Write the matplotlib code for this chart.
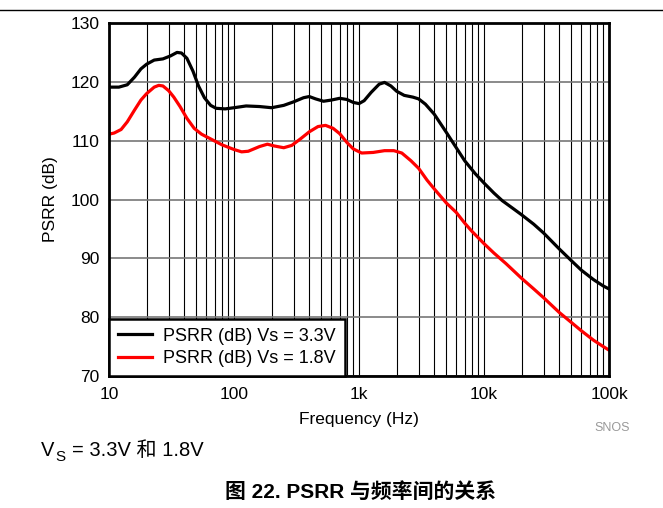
import matplotlib
matplotlib.use("Agg")
import matplotlib.pyplot as plt
from matplotlib.ticker import FixedLocator, LogLocator, NullFormatter

plt.rcParams['font.family'] = ['Liberation Sans', 'Noto Sans CJK SC', 'DejaVu Sans']

# Данные (Гц, дБ)
freq_33 = [10, 12, 14, 16, 18, 20, 23, 27, 31, 35, 38, 42, 47, 52, 58, 65, 72, 85, 100,
           125, 160, 200, 250, 300, 360, 400, 450, 520, 600, 700, 800, 900, 1000, 1100,
           1250, 1450, 1600, 1800, 2000, 2300, 2700, 3000, 3400, 4000, 5000, 6000, 7000,
           8500, 10000, 12000, 14000, 17000, 20000, 25000, 30000, 40000, 50000, 60000,
           75000, 90000, 100000]
psrr_33 = [119.1, 119.1, 119.5, 120.8, 122.2, 123.0, 123.7, 123.9, 124.4, 125.0, 124.9,
           124.0, 121.8, 119.3, 117.3, 116.0, 115.5, 115.4, 115.6, 115.9, 115.8, 115.6,
           116.0, 116.6, 117.3, 117.5, 117.1, 116.7, 116.9, 117.2, 117.0, 116.5, 116.3,
           116.8, 118.2, 119.6, 119.9, 119.3, 118.4, 117.7, 117.4, 117.1, 116.2, 114.5,
           111.4, 108.8, 106.6, 104.4, 102.8, 101.1, 99.8, 98.5, 97.4, 95.8, 94.3, 91.6,
           89.6, 88.0, 86.4, 85.3, 84.8]

freq_18 = [10, 11, 12.5, 14, 16, 18, 20, 23, 25, 27, 30, 33, 37, 42, 48, 55, 65, 80, 100,
           115, 130, 160, 185, 210, 250, 290, 340, 400, 470, 540, 620, 700, 800, 900, 1050,
           1300, 1600, 1900, 2200, 2600, 3000, 3500, 4000, 5000, 6000, 7000, 8000, 10000,
           12000, 15000, 20000, 25000, 30000, 40000, 50000, 60000, 75000, 90000, 100000]
psrr_18 = [111.1, 111.3, 111.9, 113.2, 115.2, 116.9, 118.0, 119.1, 119.4, 119.3, 118.5,
           117.4, 115.8, 113.8, 112.1, 111.1, 110.3, 109.3, 108.5, 108.1, 108.2, 109.0,
           109.4, 109.1, 108.8, 109.2, 110.3, 111.5, 112.4, 112.6, 112.1, 111.2, 109.7,
           108.6, 107.9, 108.0, 108.3, 108.3, 107.9, 106.6, 105.3, 103.3, 101.8, 99.4,
           97.8, 96.0, 94.6, 92.5, 90.9, 89.1, 86.6, 84.8, 83.3, 80.8, 79.1, 77.7, 76.1,
           75.0, 74.4]

x_ticks = [10, 100, 1000, 10000, 100000]
x_labels = ['10', '100', '1k', '10k', '100k']
y_ticks = [70, 80, 90, 100, 110, 120, 130]

W, H = 663, 508
fig = plt.figure(figsize=(W / 100, H / 100), dpi=100)
ax = fig.add_axes([109 / W, 1 - 376 / H, 500 / W, 353 / H])

# Оси и сетка
ax.set_xscale('log')
ax.set_xlim(10, 100000)
ax.set_ylim(70, 130)
ax.xaxis.set_major_locator(FixedLocator(x_ticks))
ax.set_xticklabels(x_labels)
ax.xaxis.set_minor_locator(LogLocator(base=10, subs=range(2, 10)))
ax.xaxis.set_minor_formatter(NullFormatter())
ax.set_yticks(y_ticks)
ax.grid(which='both', axis='x', color='black', linewidth=0.8)
ax.grid(which='major', axis='y', color='#777777', linewidth=1.2)
ax.tick_params(which='both', length=0, labelsize=12.5)
ax.tick_params(axis='x', pad=8)
ax.tick_params(axis='y', pad=7)

# Кривые
ax.plot(freq_33, psrr_33, color='black', linewidth=2.3, label='PSRR (dB) Vs = 3.3V')
ax.plot(freq_18, psrr_18, color='#ff0000', linewidth=2.3, label='PSRR (dB) Vs = 1.8V')

for s in ax.spines.values():
    s.set_linewidth(2)

leg = ax.legend(loc='lower left', fontsize=13, frameon=True, fancybox=False,
                borderaxespad=0, handlelength=1.9, borderpad=0.5, labelspacing=0.3,
                handletextpad=0.6)
leg.get_frame().set_edgecolor('black')
leg.get_frame().set_linewidth(1.8)
leg.get_frame().set_alpha(1)

ax.set_xlabel('Frequency (Hz)', fontsize=12.5, labelpad=7)
ax.set_ylabel('PSRR (dB)', fontsize=12.5, labelpad=9)

# Подписи вокруг графика
fig.add_artist(plt.Line2D([0, 1], [1 - 9.5 / H, 1 - 9.5 / H], color='black', linewidth=1))
fig.text(612 / W, 1 - 428 / H, 'SNOS', color='#999999', fontsize=9, ha='center', va='center')
fig.text(41 / W, 1 - 451 / H, 'V', fontsize=14.5, ha='left', va='center')
fig.text(55.5 / W, 1 - 457 / H, 'S', fontsize=11, ha='left', va='center')
fig.text(72 / W, 1 - 451 / H, '= 3.3V 和 1.8V', fontsize=14.5, ha='left', va='center')
fig.text(361 / W, 1 - 492 / H, '图 22. PSRR 与频率间的关系', fontsize=15, fontweight='bold',
         ha='center', va='center')

fig.savefig('out.png', dpi=100)
